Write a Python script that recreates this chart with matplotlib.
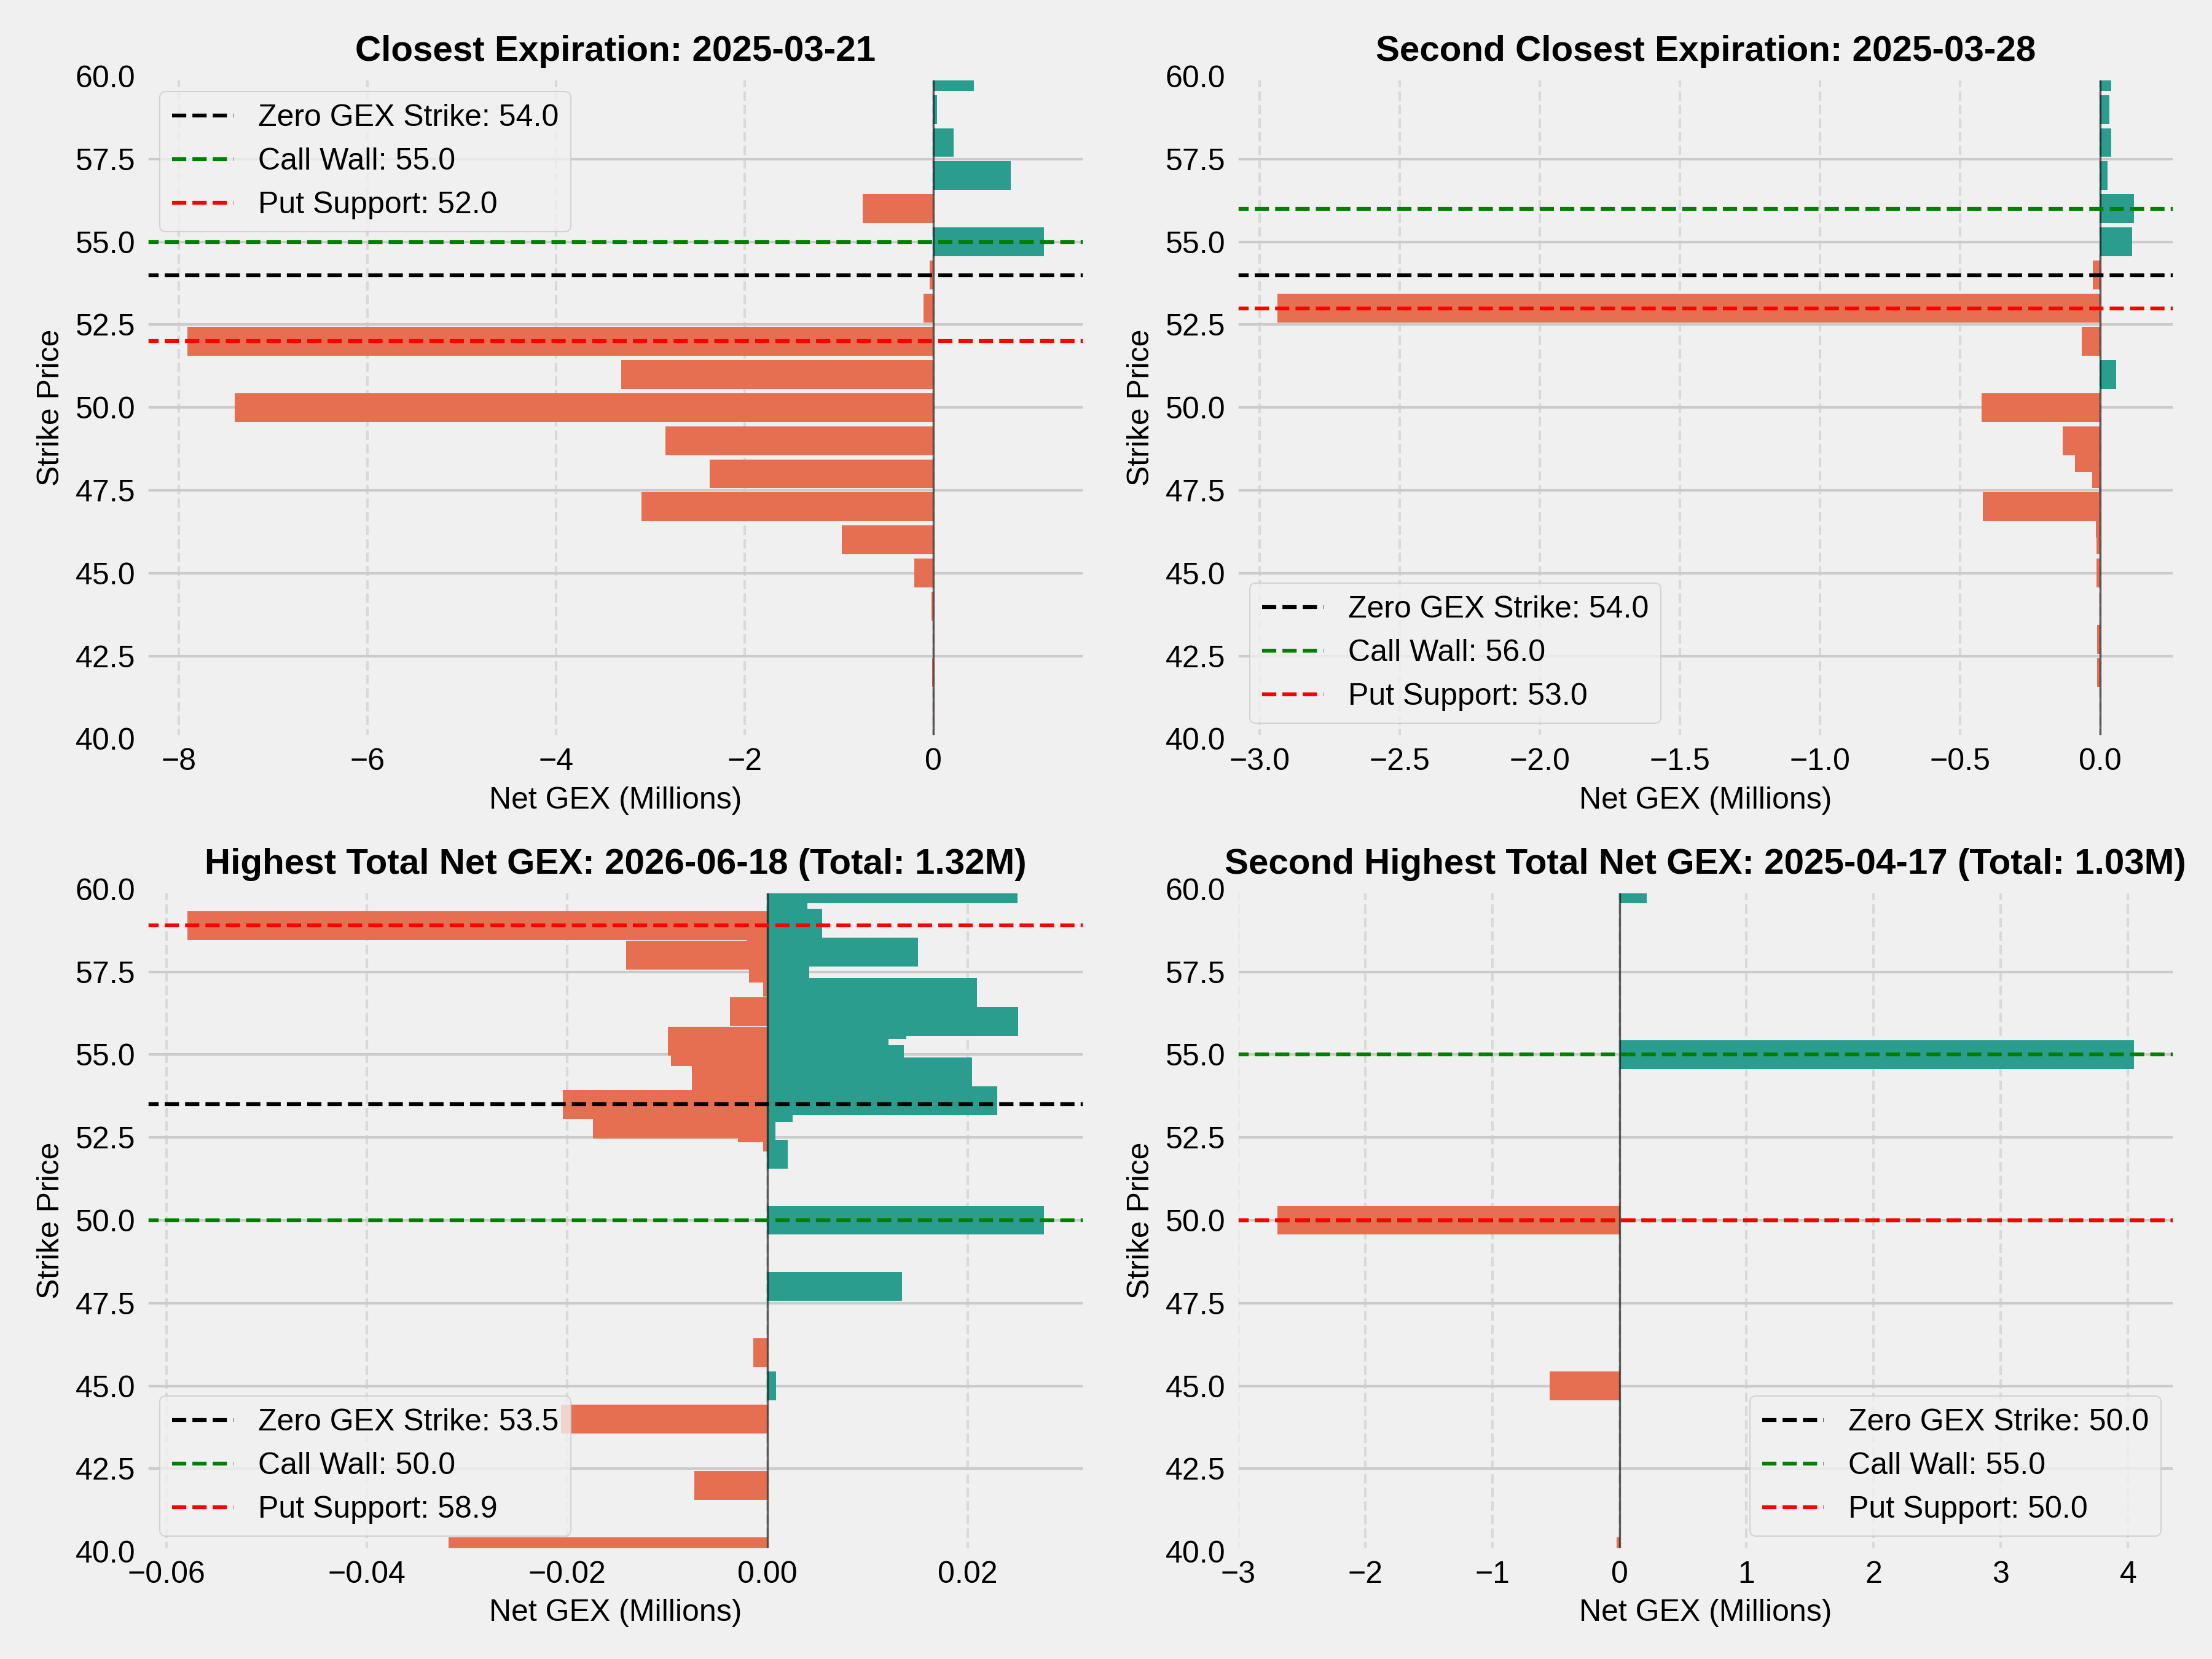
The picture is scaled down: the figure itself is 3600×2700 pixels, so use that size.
import numpy as np
import matplotlib
matplotlib.use("Agg")
import matplotlib.pyplot as plt

plt.style.use('fivethirtyeight')
plt.rcParams['font.family'] = ['Liberation Sans', 'DejaVu Sans']

# panel 1: closest expiration
p1_strikes = [40, 41, 42, 43, 44, 45, 46, 47, 48, 49, 50, 51, 52, 53, 54, 55, 56, 57, 58, 59, 60]
p1_gex = [-0.002, -0.004, -0.012, -0.004, -0.02, -0.2, -0.97, -3.09, -2.37, -2.84, -7.41,
          -3.31, -7.91, -0.101, -0.037, 1.173, -0.75, 0.824, 0.215, 0.04, 0.43]

# panel 2: second closest expiration
p2_strikes = [42, 43, 44, 45, 46, 46.5, 47, 47.5, 48, 48.5, 49, 50, 51, 52, 53, 54, 55, 56, 57, 58, 59, 60]
p2_gex = [-0.0102, -0.0102, -0.0015, -0.0124, -0.0124, -0.0146, -0.419, -0.0044, -0.0277, -0.0889,
          -0.1327, -0.4235, 0.057, -0.065, -2.937, -0.027, 0.115, 0.120, 0.027, 0.040, 0.032, 0.040]

# panel 3: highest total net gex (adjusted strikes, overlapping bars)
p3_strikes = [40.0, 42.0, 44.0, 45.0, 46.0, 48.0, 50.0, 52.0, 52.51, 52.80, 52.87, 52.91, 53.41, 53.50,
              53.61, 54.36, 54.48, 54.68, 54.86, 55.00, 55.10, 55.40, 55.57, 55.70, 55.90, 56.0, 56.30,
              56.88, 57.18, 57.38, 57.61, 57.67, 58.0, 58.10, 58.5, 58.9, 58.97, 59.37, 59.5, 60.0]
p3_gex = [-0.0318, -0.00726, -0.0206, 0.00085, -0.00141, 0.01346, 0.0276, 0.00203, -0.00043, -0.00294,
          0.0008, -0.0174, 0.00255, -0.0204, 0.02297, -0.0075, 0.02042, -0.00392, 0.01364, -0.00512,
          -0.00959, -0.00994, 0.01182, 0.01213, 0.01388, 0.02503, -0.00371, 0.02094, -0.00043, 0.00416,
          -0.0018, 0.0008, -0.0141, 0.01503, -0.00205, -0.0579, 0.00549, 0.00269, 0.00399, 0.0250]

# panel 4: second highest total net gex
p4_strikes = [40, 45, 50, 55, 60]
p4_gex = [-0.02, -0.55, -2.69, 4.045, 0.215]

titles = ['Closest Expiration: 2025-03-21',
          'Second Closest Expiration: 2025-03-28',
          'Highest Total Net GEX: 2026-06-18 (Total: 1.32M)',
          'Second Highest Total Net GEX: 2025-04-17 (Total: 1.03M)']
zero_gex = [54.0, 54.0, 53.5, 50.0]
call_wall = [55.0, 56.0, 50.0, 55.0]
put_support = [52.0, 53.0, 58.9, 50.0]
legend_locs = ['upper left', 'lower left', 'lower left', 'lower right']

panels = [(p1_strikes, p1_gex), (p2_strikes, p2_gex), (p3_strikes, p3_gex), (p4_strikes, p4_gex)]

fig, axes = plt.subplots(2, 2, figsize=(12, 9))
fig.subplots_adjust(left=0.0653, right=0.984, top=0.954, bottom=0.0648, wspace=0.157, hspace=0.227)

for i, ax in enumerate(axes.flat):
    strikes, gex = panels[i]
    gex = np.array(gex)
    colors = np.where(gex >= 0, '#2a9d8f', '#e76f51')
    ax.barh(strikes, gex, height=0.87, color=colors)
    ax.axvline(0, color='black', linewidth=0.8, alpha=0.6)
    ax.axhline(zero_gex[i], color='black', linestyle='--', linewidth=1.5,
               label=f'Zero GEX Strike: {zero_gex[i]:.1f}')
    ax.axhline(call_wall[i], color='green', linestyle='--', linewidth=1.5,
               label=f'Call Wall: {call_wall[i]:.1f}')
    ax.axhline(put_support[i], color='red', linestyle='--', linewidth=1.5,
               label=f'Put Support: {put_support[i]:.1f}')
    ax.set_ylim(40, 60)
    ax.set_title(titles[i], fontsize=14, fontweight='bold')
    ax.set_xlabel('Net GEX (Millions)', fontsize=12)
    ax.set_ylabel('Strike Price', fontsize=12)
    ax.tick_params(labelsize=12)
    ax.grid(axis='x', linestyle='--', alpha=0.6)
    ax.legend(loc=legend_locs[i], fontsize=12)

plt.savefig('out.png', dpi=300)
